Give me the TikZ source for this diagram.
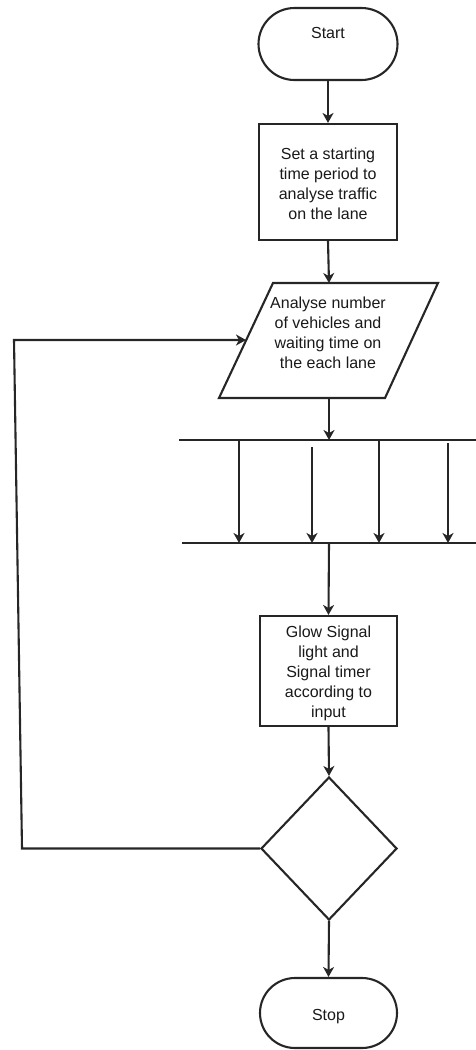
\documentclass[tikz,border=0pt]{standalone}
\usepackage{fontspec}
\setmainfont{Liberation Sans}
\usetikzlibrary{arrows.meta,shapes.geometric}
\begin{document}
\begin{tikzpicture}[x=1pt,y=-1pt,line width=2.1pt,draw=black!85,
  arr/.style={-{Stealth[length=10pt,width=11pt,inset=3pt]}},
  shp/.style={draw=black!85,inner sep=0pt},
  txt/.style={font=\fontsize{16}{20}\selectfont,align=center,inner sep=0pt,text=black!90}]
\useasboundingbox (0,0) rectangle (476,1050);
% Start
\node[shp,rounded corners=36pt,minimum width=139pt,minimum height=72pt] (start) at (328,44) {};
\node[txt] (starttxt) at (328,33) {Start};
% box 1
\node[shp,minimum width=138pt,minimum height=116pt] (set) at (328,182) {};
\node[txt] (settxt) at (328,184) {Set a starting\\time period to\\analyse traffic\\on the lane};
% parallelogram
\coordinate (pTL) at (273,283);
\coordinate (pTR) at (438,283);
\coordinate (pBR) at (385,398);
\coordinate (pBL) at (219,398);
\coordinate (pTop) at (329,283);
\coordinate (pBot) at (329,398);
\coordinate (pLeft) at (246,340);
\draw (pTL) -- (pTR) -- (pBR) -- (pBL) -- cycle;
\node[txt] (partxt) at (328,333) {Analyse number\\of vehicles and\\waiting time on\\the each lane};
% bars
\coordinate (b1L) at (179,440);
\coordinate (b1R) at (476,440);
\coordinate (b2L) at (182,543);
\coordinate (b2R) at (476,543);
\coordinate (b1M) at (329,440);
\coordinate (b2M) at (329,543);
\draw (b1L) -- (b1R);
\draw (b2L) -- (b2R);
\foreach \i/\x/\s in {1/239/441,2/312/447,3/379/441,4/448/443}{
  \coordinate (u\i) at (\x,\s);
  \coordinate (d\i) at (\x,543);
  \draw[arr] (u\i) -- (d\i);
}
% glow box
\node[shp,minimum width=137pt,minimum height=110pt] (glow) at (328.5,671) {};
\node[txt] (glowtxt) at (328.5,673) {Glow Signal\\light and\\Signal timer\\according to\\input};
% diamond
\node[shp,diamond,minimum width=136pt,minimum height=143pt,aspect=0.95] (dec) at (329,848.5) {};
% stop
\node[shp,rounded corners=35pt,minimum width=137pt,minimum height=70pt] (stop) at (328.5,1013) {};
\node[txt] (stoptxt) at (328.5,1017) {Stop};
% connectors
\draw[arr] (start.south) -- (set.north);
\draw[arr] (set.south) -- (pTop);
\draw[arr] (pBot) -- (b1M);
\draw[arr] (b2M) -- (glow.north);
\draw[arr] (glow.south) -- (dec.north);
\draw[arr] (dec.south) -- (stop.north);
\coordinate (fbB) at (22,848.5);
\coordinate (fbT) at (14,340);
\draw[arr] (dec.west) -- (fbB) -- (fbT) -- (pLeft);
\end{tikzpicture}
\end{document}
